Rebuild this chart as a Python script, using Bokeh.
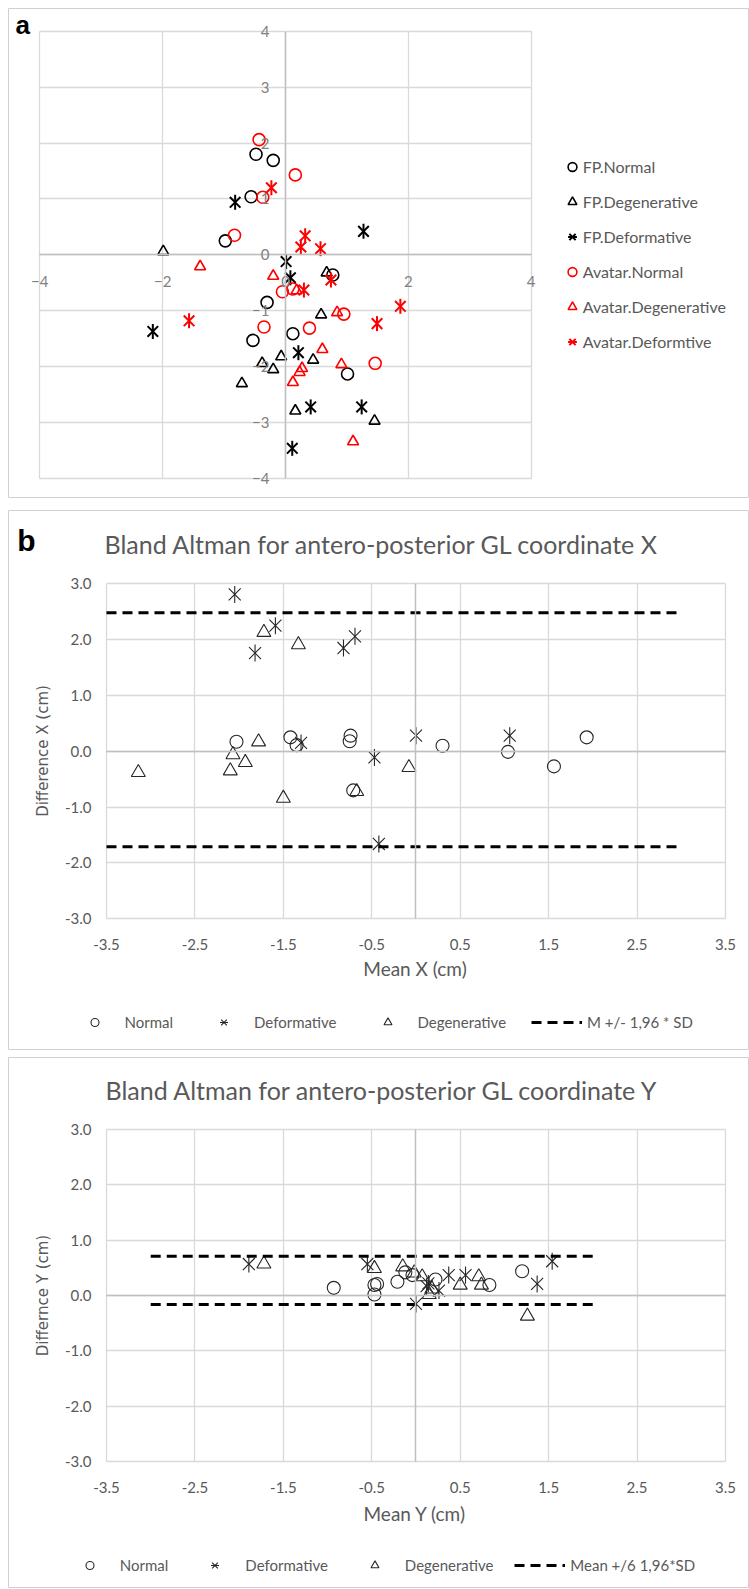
import math
from bokeh.plotting import figure
from bokeh.models import (FixedTicker, NumeralTickFormatter, Legend, LegendItem, Label,
                          Range1d, LinearAxis, Grid)
from bokeh.embed import file_html
from bokeh.resources import INLINE

# ---------------- Panel a data ----------------
a_xticks = [-4, -2, 0, 2, 4]
a_yticks = [-4, -3, -2, -1, 0, 1, 2, 3, 4]
a_box = (-4, 4)

fp_normal_x = [-0.48, -0.20, -0.56, -0.98, 0.77, -0.30, 0.12, -0.53, 1.01]
fp_normal_y = [1.80, 1.69, 1.04, 0.25, -0.36, -0.85, -1.41, -1.53, -2.13]
fp_degen_x = [-1.99, 0.67, 0.58, -0.38, -0.07, 0.45, -0.20, -0.71, 0.16, 1.45]
fp_degen_y = [0.06, -0.32, -1.07, -1.94, -1.82, -1.88, -2.05, -2.30, -2.79, -2.97]
fp_deform_x = [-0.82, 1.27, 0.01, 0.08, -2.16, 0.21, 0.41, 1.24, 0.11]
fp_deform_y = [0.94, 0.42, -0.12, -0.41, -1.37, -1.75, -2.72, -2.72, -3.46]
av_normal_x = [-0.43, 0.16, -0.37, -0.83, -0.05, 0.12, 0.95, -0.35, 0.39, 1.46]
av_normal_y = [2.06, 1.43, 1.03, 0.35, -0.66, -0.61, -1.06, -1.29, -1.31, -1.94]
av_degen_x = [-1.39, -0.20, 0.18, 0.84, 0.60, 0.27, 0.23, 0.12, 0.91, 1.10]
av_degen_y = [-0.21, -0.38, -0.64, -1.03, -1.69, -2.03, -2.10, -2.28, -1.96, -3.34]
av_deform_x = [-0.23, 0.32, 0.25, 0.57, 0.74, 0.30, 1.87, -1.57, 1.49]
av_deform_y = [1.20, 0.34, 0.14, 0.11, -0.45, -0.63, -0.92, -1.18, -1.23]

# ---------------- Bland-Altman axes ----------------
ba_xticks = [-3.5, -2.5, -1.5, -0.5, 0.5, 1.5, 2.5, 3.5]
ba_yticks = [-3, -2, -1, 0, 1, 2, 3]
ba_xbox = (-3.5, 3.5)
ba_ybox = (-3, 3)

# ---------------- Panel b data ----------------
b_normal_x = [-2.03, -1.42, -1.35, -0.74, -0.75, -0.71, 0.30, 1.04, 1.56, 1.93]
b_normal_y = [0.17, 0.25, 0.11, 0.28, 0.18, -0.70, 0.10, -0.01, -0.27, 0.25]
b_deform_x = [-2.05, -1.59, -1.82, -0.82, -0.69, -1.30, -0.47, 0.00, 1.06, -0.42]
b_deform_y = [2.81, 2.25, 1.76, 1.85, 2.06, 0.15, -0.11, 0.28, 0.28, -1.66]
b_degen_x = [-3.14, -2.07, -2.10, -1.93, -1.78, -1.72, -1.33, -1.50, -0.67, -0.08]
b_degen_y = [-0.38, -0.06, -0.35, -0.20, 0.17, 2.13, 1.91, -0.84, -0.72, -0.29]
b_limit_x = [-3.5, 3.0]
b_upper = [2.48, 2.48]
b_lower = [-1.71, -1.71]

# ---------------- Panel c data ----------------
c_normal_x = [-0.93, -0.47, -0.47, -0.44, -0.21, -0.12, -0.04, 0.22, 0.83, 1.20]
c_normal_y = [0.14, 0.02, 0.19, 0.21, 0.25, 0.42, 0.37, 0.29, 0.19, 0.44]
c_deform_x = [-1.89, -0.55, 0.00, 0.12, 0.26, 0.37, 0.56, 1.37, 1.54, 0.14]
c_deform_y = [0.57, 0.57, -0.15, 0.17, 0.09, 0.37, 0.37, 0.21, 0.62, 0.22]
c_degen_x = [-1.72, -0.47, -0.15, -0.02, 0.07, 0.15, 0.18, 0.50, 0.71, 0.74, 1.26]
c_degen_y = [0.57, 0.49, 0.52, 0.41, 0.34, 0.02, 0.12, 0.19, 0.34, 0.19, -0.37]
c_limit_x = [-3.0, 2.0]
c_upper = [0.71, 0.71]
c_lower = [-0.16, -0.16]

FONT = "Lato"
GRID = "#d9d9d9"
AXIS0 = "#bfbfbf"
TXT = "#595959"
MK = "#262626"
RED = "#ff0000"
HAS_CB = "cross_bounds" in Grid.properties()
LEFT = 100  # hidden left strip that carries the axis panels


def base_fig(xr, yr, h, margin):
    p = figure(width=LEFT + 741, height=h, x_range=Range1d(*xr), y_range=Range1d(*yr),
               x_axis_location="above", y_axis_location="left",
               min_border_left=LEFT, min_border_right=0, min_border_top=0,
               min_border_bottom=0, output_backend="svg", toolbar_location=None)
    p.margin = margin
    p.outline_line_color = "#d0d0d0"
    p.outline_line_width = 1
    return p


def grids(p, xt, yt, xb, yb):
    p.xgrid.ticker = FixedTicker(ticks=xt)
    p.ygrid.ticker = FixedTicker(ticks=yt)
    p.grid.grid_line_color = GRID
    p.grid.grid_line_width = 1.3
    if HAS_CB:
        p.xgrid.cross_bounds = yb
        p.ygrid.cross_bounds = xb
    else:
        p.grid.visible = False
        p.segment(x0=xt, y0=[yb[0]] * len(xt), x1=xt, y1=[yb[1]] * len(xt),
                  line_color=GRID, line_width=1.3, level="underlay")
        p.segment(x0=[xb[0]] * len(yt), y0=yt, x1=[xb[1]] * len(yt), y1=yt,
                  line_color=GRID, line_width=1.3, level="underlay")


def style_axis(ax, color, size):
    ax.major_tick_line_color = None
    ax.minor_tick_line_color = None
    ax.major_tick_out = 0
    ax.major_tick_in = 0
    ax.minor_tick_out = 0
    ax.minor_tick_in = 0
    ax.major_label_text_color = color
    ax.major_label_text_font = FONT
    ax.major_label_text_font_size = size


def star(p, x, y, color, size, lw):
    r1 = p.scatter(x, y, marker="x", size=size, line_color=color, line_width=lw)
    r2 = p.scatter(x, y, marker="dash", size=size, angle=math.pi / 2,
                   line_color=color, line_width=lw)
    return [r1, r2]


def text(p, x, y, s, font, size, color, bold=False, align="left"):
    p.add_layout(Label(x=x, y=y, x_units="screen", y_units="screen", text=s,
                       text_font=font, text_font_size=size, text_color=color,
                       text_font_style="bold" if bold else "normal",
                       text_align=align, text_baseline="middle"))


# ================= Panel a =================
pa = base_fig((-4.5096, 7.554), (-4.3577, 4.406), 490, (8, 0, 0, 8 - LEFT))
grids(pa, a_xticks, a_yticks, a_box, a_box)
xa, ya = pa.xaxis[0], pa.yaxis[0]
for ax, tk in ((xa, a_xticks), (ya, a_yticks)):
    ax.fixed_location = 0
    ax.ticker = FixedTicker(ticks=tk)
    ax.bounds = a_box
    ax.axis_line_color = AXIS0
    ax.axis_line_width = 1.5
    style_axis(ax, "#808080", "15px")
xa.major_label_standoff = -32
ya.major_label_standoff = 16

ra1 = pa.scatter(fp_normal_x, fp_normal_y, marker="circle", size=12, fill_color=None,
                 line_color="black", line_width=1.6)
ra2 = pa.scatter(fp_degen_x, fp_degen_y, marker="triangle", size=11, fill_color=None,
                 line_color="black", line_width=1.6)
ra3 = star(pa, fp_deform_x, fp_deform_y, "black", 15, 2)
ra4 = pa.scatter(av_normal_x, av_normal_y, marker="circle", size=12, fill_color=None,
                 line_color=RED, line_width=1.6)
ra5 = pa.scatter(av_degen_x, av_degen_y, marker="triangle", size=11, fill_color=None,
                 line_color=RED, line_width=1.6)
ra6 = star(pa, av_deform_x, av_deform_y, RED, 15, 2)

pa.add_layout(Legend(items=[
    LegendItem(label="FP.Normal", renderers=[ra1]),
    LegendItem(label="FP.Degenerative", renderers=[ra2]),
    LegendItem(label="FP.Deformative", renderers=ra3),
    LegendItem(label="Avatar.Normal", renderers=[ra4]),
    LegendItem(label="Avatar.Degenerative", renderers=[ra5]),
    LegendItem(label="Avatar.Deformtive", renderers=ra6),
], location=(552.7, 143.8), orientation="vertical", glyph_width=22, glyph_height=25,
    label_standoff=0, spacing=10, padding=0, margin=0, border_line_color=None,
    background_fill_alpha=0, label_text_font=FONT, label_text_font_size="16px",
    label_text_color=TXT, label_height=20))
text(pa, 7, 473.5, "a", "Liberation Sans", "26px", "black", bold=True)


# ================= Bland-Altman panels =================
def bland(yr, h, margin, xstand, ylabel):
    p = base_fig((-4.6082, 3.7714), yr, h, margin)
    grids(p, ba_xticks, ba_yticks, ba_xbox, ba_ybox)
    xa, ya = p.xaxis[0], p.yaxis[0]
    xa.fixed_location = ba_ybox[0]
    xa.ticker = FixedTicker(ticks=ba_xticks)
    ya.fixed_location = ba_xbox[0]
    ya.ticker = FixedTicker(ticks=ba_yticks)
    ya.bounds = ba_ybox
    for ax in (xa, ya):
        ax.formatter = NumeralTickFormatter(format="0.0")
        ax.axis_line_color = None
        style_axis(ax, TXT, "15px")
    xa.major_label_standoff = xstand
    ya.major_label_standoff = 15
    ya.axis_label = ylabel
    ya.axis_label_text_font = "DejaVu Sans"
    ya.axis_label_text_font_size = "15px"
    ya.axis_label_text_font_style = "normal"
    ya.axis_label_text_color = TXT
    ya.axis_label_standoff = 10
    zx = LinearAxis(fixed_location=0, ticker=FixedTicker(ticks=[]), bounds=ba_xbox,
                    axis_line_color=AXIS0, axis_line_width=1.5)
    zy = LinearAxis(fixed_location=0, ticker=FixedTicker(ticks=[]), bounds=ba_ybox,
                    axis_line_color=AXIS0, axis_line_width=1.5)
    for z in (zx, zy):
        style_axis(z, TXT, "15px")
        z.major_label_standoff = 0
    p.add_layout(zx, "above")
    p.add_layout(zy, "left")
    return p


def fill(p, nx, ny, dx, dy, gx, gy, lx, up, lo, line_label, loc, spacing):
    r1 = p.scatter(nx, ny, marker="circle", size=13, fill_color=None, line_color=MK,
                   line_width=1.1)
    r2 = star(p, dx, dy, MK, 17, 1.1)
    r3 = p.scatter(gx, gy, marker="triangle", size=14, fill_color=None, line_color=MK,
                   line_width=1.1)
    l1 = p.line(lx, up, line_color="black", line_width=3, line_dash="10 6")
    p.line(lx, lo, line_color="black", line_width=3, line_dash="10 6")
    p.add_layout(Legend(items=[
        LegendItem(label="Normal", renderers=[r1]),
        LegendItem(label="Deformative", renderers=r2),
        LegendItem(label="Degenerative", renderers=[r3]),
        LegendItem(label=line_label, renderers=[l1]),
    ], location=loc, orientation="horizontal", glyph_width=51, glyph_height=20,
        label_standoff=5, spacing=spacing, padding=0, margin=0, border_line_color=None,
        background_fill_alpha=0, label_text_font=FONT, label_text_font_size="15px",
        label_text_color=TXT))


pb = bland((-5.3588, 4.3129), 540, (12, 0, 0, 8 - LEFT), -31, "Difference X (cm)")
fill(pb, b_normal_x, b_normal_y, b_deform_x, b_deform_y, b_degen_x, b_degen_y,
     b_limit_x, b_upper, b_lower, "M +/- 1,96 * SD", (60.5, 18.2), 25)
text(pb, 8.7, 510.4, "b", "Liberation Sans", "30px", "black", bold=True)
text(pb, 96, 507, "Bland Altman for antero-posterior GL coordinate X", FONT, "25px", TXT)
text(pb, 406.5, 82, "Mean X (cm)", FONT, "19px", TXT, align="center")

pc = bland((-5.287, 4.2978), 531, (7, 0, 0, 8 - LEFT), -31, "Differnce Y (cm)")
fill(pc, c_normal_x, c_normal_y, c_deform_x, c_deform_y, c_degen_x, c_degen_y,
     c_limit_x, c_upper, c_lower, "Mean +/6 1,96*SD", (55.8, 13), 21)
text(pc, 97, 498.6, "Bland Altman for antero-posterior GL coordinate Y", FONT, "25px", TXT)
text(pc, 406.5, 75, "Mean Y (cm)", FONT, "19px", TXT, align="center")

open("out.html", "w").write(file_html([pa, pb, pc], INLINE))
